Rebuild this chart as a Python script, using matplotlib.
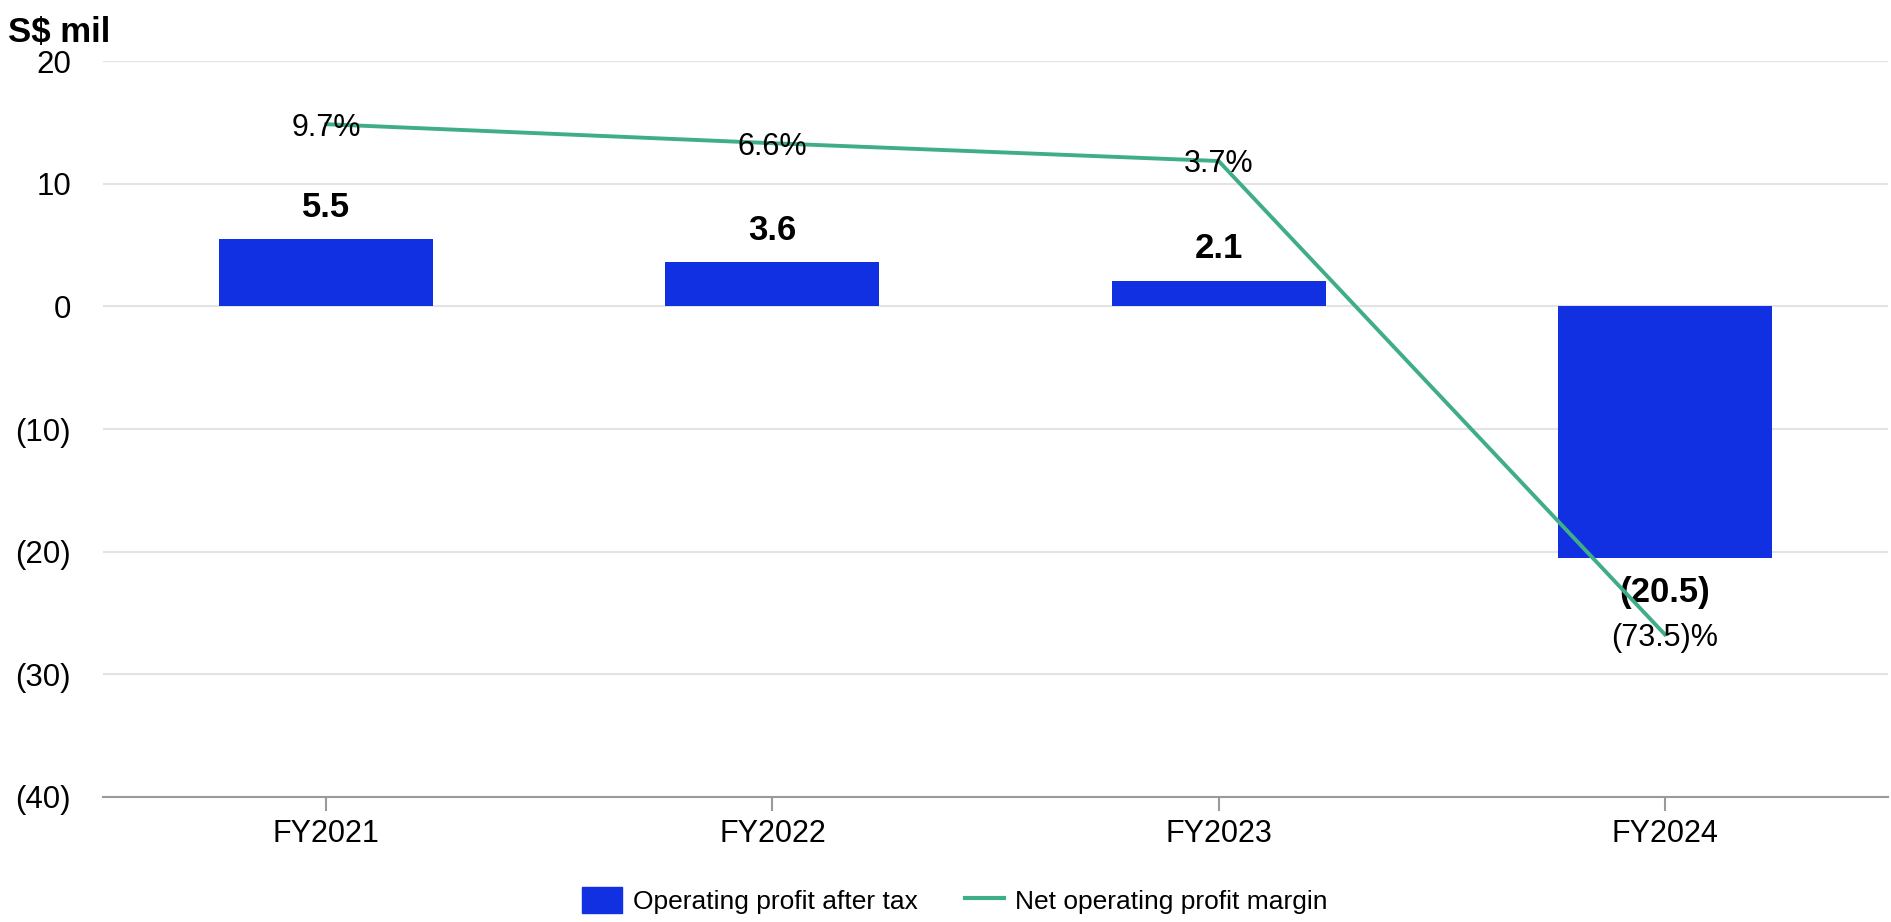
import matplotlib
matplotlib.use("Agg")
import matplotlib.pyplot as plt
from matplotlib.lines import Line2D
from matplotlib.patches import Patch

plt.rcParams['font.family'] = ['Liberation Sans', 'DejaVu Sans']

categories = ["FY2021", "FY2022", "FY2023", "FY2024"]
profit = [5.5, 3.6, 2.1, -20.5]
profit_labels = ["5.5", "3.6", "2.1", "(20.5)"]
margin = [9.7, 6.6, 3.7, -73.5]
margin_labels = ["9.7%", "6.6%", "3.7%", "(73.5)%"]
yticks = [20, 10, 0, -10, -20, -30, -40]
ytick_labels = ["20", "10", "0", "(10)", "(20)", "(30)", "(40)"]

BLUE = "#1130E2"
GREEN = "#3FAE88"

fig = plt.figure(figsize=(18.91, 9.22), dpi=100)
ax = fig.add_axes([0.0545, 0.1356, 0.9439, 0.7982])
x = list(range(len(categories)))

ax.bar(x, profit, width=0.48, color=BLUE, zorder=3)
ax.set_xlim(-0.5, 3.5)
ax.set_ylim(-40, 20)
ax.set_yticks(yticks)
ax.set_yticklabels(ytick_labels, fontsize=22.5)
ax.set_xticks(x)
ax.set_xticklabels(categories, fontsize=22)
ax.grid(axis='y', color='#E3E3E3', linewidth=1.5, zorder=0)
for s in ['top', 'right', 'left']:
    ax.spines[s].set_visible(False)
ax.spines['bottom'].set_color('#9A9A9A')
ax.spines['bottom'].set_linewidth(1.5)
ax.tick_params(axis='y', length=0, pad=23)
ax.tick_params(axis='x', length=10, color='#9A9A9A', width=1.5, pad=6)

for xi, v, lab in zip(x, profit, profit_labels):
    if v >= 0:
        ax.annotate(lab, (xi, v), xytext=(0, 11), textcoords='offset points',
                    ha='center', va='bottom', fontsize=25, fontweight='bold', zorder=5)
    else:
        ax.annotate(lab, (xi, v), xytext=(0, -13), textcoords='offset points',
                    ha='center', va='top', fontsize=25, fontweight='bold', zorder=5)

ax2 = ax.twinx()
ax2.set_ylim(-100, 20)
ax2.axis('off')
ax2.plot(x, margin, color=GREEN, linewidth=2.8, zorder=4)
for xi, v, lab in zip(x, margin, margin_labels):
    ax2.annotate(lab, (xi, v), xytext=(0, -2.5), textcoords='offset points',
                 ha='center', va='center', fontsize=22, zorder=6)

fig.text(0.004, 0.965, "S$ mil", fontsize=25, fontweight='bold', ha='left', va='center')

handles = [Patch(facecolor=BLUE, edgecolor=BLUE),
           Line2D([0], [0], color=GREEN, linewidth=3)]
fig.legend(handles, ["Operating profit after tax", "Net operating profit margin"],
           loc='center', bbox_to_anchor=(0.505, 0.023), ncol=2, frameon=False,
           fontsize=19, handlelength=1.5, handleheight=1.1, columnspacing=1.8,
           handletextpad=0.4)

fig.savefig("out.png", dpi=100)
